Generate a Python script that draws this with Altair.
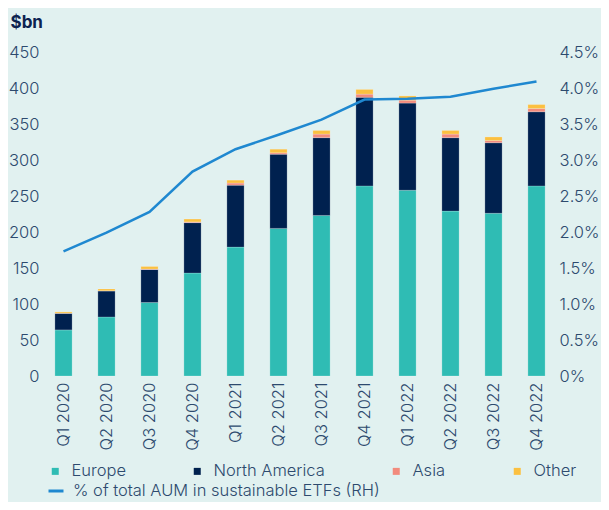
import altair as alt
import pandas as pd

quarters = ["Q1 2020", "Q2 2020", "Q3 2020", "Q4 2020", "Q1 2021", "Q2 2021",
            "Q3 2021", "Q4 2021", "Q1 2022", "Q2 2022", "Q3 2022", "Q4 2022"]
regions = ["Europe", "North America", "Asia", "Other"]
europe = [64, 82, 102, 143, 179, 205, 223, 264, 258, 229, 226, 264]
north_america = [23, 36, 46, 70, 86, 103, 108, 123, 121, 102, 98, 103]
asia = [0.3, 0.5, 0.5, 1, 3, 2, 5, 4.5, 4, 5, 3, 4.5]
other = [1.7, 2.5, 3.5, 4, 4, 5, 5, 6.5, 6, 5, 5, 5.5]
share_pct = [1.73, 1.99, 2.28, 2.84, 3.15, 3.35, 3.56, 3.84, 3.85, 3.88, 3.99, 4.09]
line_label = "% of total AUM in sustainable ETFs (RH)"

colors = ["#2fbcb4", "#00214f", "#f28b7d", "#fbc040"]
line_color = "#1f88d0"
text_color = "#2d4a6e"
font = "Inter"
fs = 16.5
fw = 300

rows = []
for vals, reg in zip([europe, north_america, asia, other], regions):
    for q, v in zip(quarters, vals):
        rows.append({"quarter": q, "region": reg, "value": v, "ord": regions.index(reg)})
bars_df = pd.DataFrame(rows)
line_df = pd.DataFrame({"quarter": quarters, "share": [s / 100 for s in share_pct],
                        "series": [line_label] * len(quarters)})

xenc = alt.X("quarter:N", sort=quarters,
             scale=alt.Scale(paddingInner=0.6, paddingOuter=0.3),
             axis=alt.Axis(title=None, labelAngle=-90, labelPadding=6, ticks=False,
                           domain=False, labelFontSize=fs, labelFontWeight=fw,
                           labelColor=text_color, labelFont=font))

bars = alt.Chart(bars_df).mark_bar(stroke="white", strokeWidth=0.4, strokeOpacity=0.5).encode(
    x=xenc,
    y=alt.Y("value:Q", stack="zero",
            scale=alt.Scale(domain=[0, 450], nice=False),
            axis=alt.Axis(values=list(range(0, 451, 50)), title="$bn", titleAngle=0,
                          titleAlign="left", titleBaseline="middle", titleX=-32, titleY=-30,
                          titleFontSize=17, titleFontWeight="bold", titleColor="#0d2350",
                          titleFont=font,
                          grid=False, ticks=False, domain=False, labelPadding=3,
                          labelFontSize=fs, labelFontWeight=fw, labelColor=text_color,
                          labelFont=font)),
    color=alt.Color("region:N", scale=alt.Scale(domain=regions, range=colors),
                    legend=alt.Legend(title=None, orient="none", legendX=5, legendY=411,
                                      direction="horizontal", columns=4, columnPadding=63,
                                      symbolType="square", symbolSize=49, symbolStrokeWidth=0,
                                      labelOffset=8, labelFontSize=fs, labelFontWeight=fw,
                                      labelColor=text_color, labelFont=font, padding=0,
                                      labelLimit=400)),
    order=alt.Order("ord:Q", sort="ascending"),
)

line = alt.Chart(line_df).mark_line(strokeWidth=2.5).encode(
    x=alt.X("quarter:N", sort=quarters),
    y=alt.Y("share:Q", scale=alt.Scale(domain=[0, 0.045], nice=False),
            axis=alt.Axis(orient="right", values=[i * 0.005 for i in range(10)],
                          labelExpr="datum.value == 0 ? '0%' : format(datum.value, '.1%')",
                          title=None, grid=False, ticks=False, domain=False, labelPadding=1,
                          labelFontSize=fs, labelFontWeight=fw, labelColor=text_color,
                          labelFont=font)),
    stroke=alt.Stroke("series:N", scale=alt.Scale(range=[line_color]),
                      legend=alt.Legend(title=None, orient="none", legendX=5, legendY=430,
                                        symbolType="stroke", symbolSize=225,
                                        symbolStrokeWidth=3, labelOffset=8, labelFontSize=fs,
                                        labelFontWeight=fw, labelColor=text_color,
                                        labelFont=font, padding=0, labelLimit=500)),
)

chart = alt.layer(bars, line).resolve_scale(y="independent", color="independent").properties(
    width=516, height=324,
    autosize=alt.AutoSizeParams(type="none"),
    padding={"left": 34, "top": 44, "right": 43, "bottom": 126},
    background="#e1f1f0",
).configure_view(stroke=None)

chart.save("out.html", embed_options={"renderer": "svg", "actions": False})
